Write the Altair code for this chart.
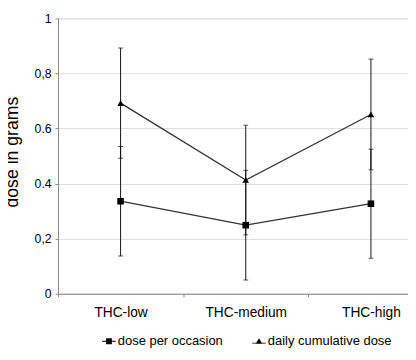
import altair as alt
import pandas as pd

categories = ["THC-low", "THC-medium", "THC-high"]
series_names = ["dose per occasion", "daily cumulative dose"]
per_occasion_mean = [0.336, 0.249, 0.327]
per_occasion_err = [0.199, 0.199, 0.198]
daily_mean = [0.692, 0.413, 0.651]
daily_err = [0.200, 0.199, 0.201]
y_ticks = [0, 0.2, 0.4, 0.6, 0.8, 1]
y_tick_labels = ["0", "0,2", "0.4", "0.6", "0,8", "1"]

rows = []
for name, means, errs in [
    (series_names[0], per_occasion_mean, per_occasion_err),
    (series_names[1], daily_mean, daily_err),
]:
    for c, m, e in zip(categories, means, errs):
        rows.append({"cat": c, "series": name, "mean": m, "lo": m - e, "hi": m + e})
df = pd.DataFrame(rows)

FONT = "Liberation Sans, Arial"

label_expr = ""
for v, l in zip(y_ticks, y_tick_labels):
    label_expr += f"abs(datum.value - {v}) < 1e-6 ? '{l}' : "
label_expr += "datum.label"

xenc = alt.X(
    "cat:N",
    sort=categories,
    scale=alt.Scale(type="band", domain=categories, range=[0, 383], paddingInner=0, paddingOuter=0),
    axis=alt.Axis(
        title=None, labelAngle=0, tickBand="extent", labelFont=FONT, labelFontSize=14,
        labelColor="#000", labelPadding=9, tickSize=3, domainColor="#888", tickColor="#888",
        grid=False,
    ),
)
yscale = alt.Scale(domain=[0, 1], nice=False, zero=True)
yaxis = alt.Axis(
    values=y_ticks, labelExpr=label_expr, labelFont=FONT, labelFontSize=12.5, labelColor="#000",
    labelPadding=4, tickSize=3, domainColor="#888", tickColor="#888", gridColor="#dcdcdc",
    title="dose in grams", titleFont=FONT, titleFontSize=18, titleFontWeight="normal",
    titleColor="#000", titleAngle=270, titleX=-41, titleY=136, titleBaseline="alphabetic",
    titleAlign="center",
)

base = alt.Chart(df)

rules = base.mark_rule(color="#111", strokeWidth=1).encode(
    x=xenc, y=alt.Y("lo:Q", scale=yscale, axis=yaxis), y2="hi:Q"
)
caps_lo = base.mark_tick(color="#111", size=5, thickness=1).encode(x=xenc, y=alt.Y("lo:Q", scale=yscale))
caps_hi = base.mark_tick(color="#111", size=5, thickness=1).encode(x=xenc, y=alt.Y("hi:Q", scale=yscale))
lines = base.mark_line(color="#333", strokeWidth=1.3).encode(
    x=xenc, y=alt.Y("mean:Q", scale=yscale), detail="series:N"
)
points = base.mark_point(filled=True, color="#000", opacity=1, size=45).encode(
    x=xenc,
    y=alt.Y("mean:Q", scale=yscale),
    shape=alt.Shape("series:N", scale=alt.Scale(domain=series_names, range=["square", "triangle-up"]), legend=None),
)

legend_paths = [
    "M-1,-0.07H1V0.07H-1ZM-0.42,-0.42H0.42V0.42H-0.42Z",
    "M-1,0.2H1V0.34H-1ZM0,-0.45L0.48,0.38H-0.48Z",
]
legend_layer = base.mark_point(filled=True, color="#000").encode(
    x=xenc,
    y=alt.Y("mean:Q", scale=yscale),
    opacity=alt.value(0),
    shape=alt.Shape(
        "series:N",
        scale=alt.Scale(domain=series_names, range=legend_paths),
        legend=alt.Legend(
            title=None, orient="none", legendX=45, legendY=322, direction="horizontal",
            symbolSize=196, symbolOpacity=1, symbolFillColor="#000", symbolStrokeWidth=0,
            labelFont=FONT, labelFontSize=13.2, labelColor="#000",
            labelOffset=2, columnPadding=29, padding=0, labelLimit=300,
        ),
    ),
)

chart = (
    alt.layer(rules, caps_lo, caps_hi, lines, points, legend_layer)
    .resolve_scale(shape="independent")
    .properties(
        width=357, height=281,
        autosize=alt.AutoSizeParams(type="none"),
        padding={"left": 51, "top": 7, "right": 0, "bottom": 64},
    )
    .configure_view(stroke=None)
    .configure(background="#ffffff")
)

chart.save("out.html", embed_options={"renderer": "svg", "actions": False})
